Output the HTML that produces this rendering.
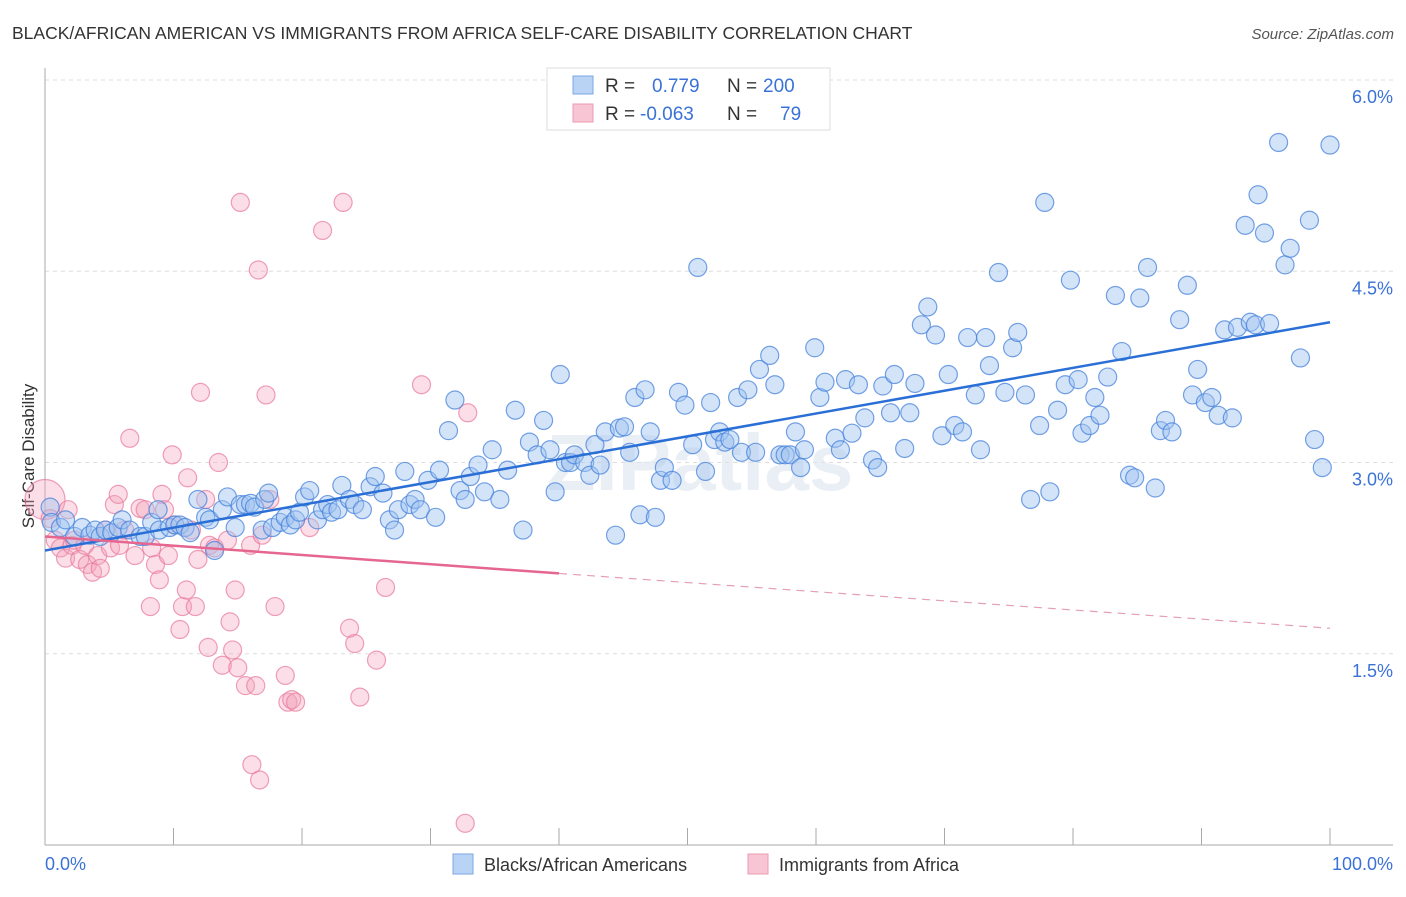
<!DOCTYPE html>
<html><head><meta charset="utf-8"><style>
body{margin:0;background:#fff;font-family:"Liberation Sans",sans-serif;}
svg text{font-family:"Liberation Sans",sans-serif;}
</style></head><body>
<svg id="chart" width="1406" height="892" xmlns="http://www.w3.org/2000/svg">
<text x="12" y="39" font-size="17.5" fill="#333">BLACK/AFRICAN AMERICAN VS IMMIGRANTS FROM AFRICA SELF-CARE DISABILITY CORRELATION CHART</text>
<text x="1394" y="39" font-size="15" fill="#555" font-style="italic" text-anchor="end">Source: ZipAtlas.com</text>
<g id="grid"></g>
<text x="700" y="490" font-size="80" fill="#dde6f0" text-anchor="middle" font-weight="bold" opacity="0.6">ZIPatlas</text>
<text transform="translate(34,456) rotate(-90)" font-size="17" fill="#333" text-anchor="middle">Self-Care Disability</text>
<g id="pts"></g>
<g id="lines"></g>
<g>
<rect x="547" y="68" width="283" height="62" fill="#fff" stroke="#ddd"/>
<rect x="573" y="76" width="20" height="18" fill="#b9d3f5" stroke="#7aa7e6"/>
<rect x="573" y="104" width="20" height="18" fill="#f8c5d4" stroke="#ec9ab3"/>
<text x="605" y="92" font-size="19" fill="#333">R = </text><text x="652" y="92" font-size="19" fill="#3a72d8">0.779</text>
<text x="727" y="92" font-size="19" fill="#333">N = </text><text x="763" y="92" font-size="19" fill="#3a72d8">200</text>
<text x="605" y="120" font-size="19" fill="#333">R = </text><text x="640" y="120" font-size="19" fill="#3a72d8">-0.063</text>
<text x="727" y="120" font-size="19" fill="#333">N = </text><text x="780" y="120" font-size="19" fill="#3a72d8">79</text>
</g>
<g>
<rect x="453" y="854" width="20" height="20" fill="#b9d3f5" stroke="#7aa7e6"/>
<text x="484" y="871" font-size="18" fill="#333">Blacks/African Americans</text>
<rect x="748" y="854" width="20" height="20" fill="#f8c5d4" stroke="#ec9ab3"/>
<text x="779" y="871" font-size="18" fill="#333">Immigrants from Africa</text>
</g>
</svg>
<script>
const xTicks=[0,10,20,30,40,50,60,70,80,90,100];
const yTicks=[1.5,3.0,4.5,6.0];
const blueX=[0.4,0.5,1.2,1.6,2.3,2.9,3.5,3.9,4.3,4.7,5.2,5.7,6.0,6.6,7.4,7.8,8.3,8.8,8.9,9.7,10.1,10.5,10.9,11.3,11.9,12.5,12.8,13.2,13.8,14.2,14.8,15.2,15.6,16.0,16.3,16.9,17.1,17.4,17.7,18.3,18.7,19.1,19.5,19.8,20.2,20.6,21.2,21.6,22.0,22.3,22.8,23.1,23.7,24.1,24.7,25.3,25.7,26.3,26.8,27.2,27.5,28.0,28.4,28.8,29.2,29.8,30.4,30.7,31.4,31.9,32.3,32.7,33.1,33.7,34.2,34.8,35.4,36.0,36.6,37.2,37.7,38.3,38.8,39.3,39.7,40.1,40.5,40.9,41.2,42.0,42.4,42.8,43.2,43.6,44.4,44.7,45.1,45.5,45.9,46.3,46.7,47.1,47.5,47.9,48.2,48.8,49.3,49.8,50.4,50.8,51.4,51.8,52.1,52.5,52.9,53.3,53.9,54.2,54.7,55.3,55.6,56.4,56.8,57.2,57.6,58.0,58.4,58.8,59.1,59.9,60.3,60.7,61.5,61.9,62.3,62.8,63.3,63.8,64.4,64.8,65.2,65.8,66.1,66.9,67.3,67.7,68.2,68.7,69.3,69.8,70.3,70.8,71.4,71.8,72.4,72.8,73.2,73.5,74.2,74.7,75.3,75.7,76.3,76.7,77.4,77.8,78.2,78.8,79.4,79.8,80.4,80.7,81.3,81.7,82.1,82.7,83.3,83.8,84.4,84.8,85.2,85.8,86.4,86.8,87.2,87.7,88.3,88.9,89.3,89.7,90.3,90.8,91.3,91.8,92.4,92.8,93.4,93.8,94.2,94.4,94.9,95.3,96.0,96.5,96.9,97.7,98.4,98.8,99.4,100];
const blueY=[2.65,2.53,2.49,2.55,2.42,2.49,2.43,2.47,2.42,2.47,2.45,2.49,2.55,2.47,2.42,2.42,2.53,2.63,2.47,2.49,2.51,2.51,2.49,2.45,2.71,2.57,2.55,2.31,2.63,2.73,2.49,2.67,2.67,2.68,2.65,2.47,2.71,2.76,2.49,2.53,2.57,2.51,2.55,2.61,2.73,2.78,2.55,2.63,2.67,2.61,2.63,2.82,2.71,2.67,2.63,2.81,2.89,2.76,2.55,2.47,2.63,2.93,2.67,2.71,2.63,2.86,2.57,2.94,3.25,3.49,2.78,2.71,2.89,2.98,2.77,3.10,2.71,2.94,3.41,2.47,3.16,3.06,3.33,3.10,2.77,3.69,3.00,3.00,3.06,3.00,2.90,3.14,2.98,3.24,2.43,3.27,3.28,3.08,3.51,2.59,3.57,3.24,2.57,2.86,2.96,2.86,3.55,3.45,3.14,4.53,2.93,3.47,3.18,3.24,3.16,3.18,3.51,3.08,3.57,3.08,3.73,3.84,3.61,3.06,3.06,3.06,3.24,2.96,3.10,3.90,3.51,3.63,3.19,3.10,3.65,3.23,3.61,3.35,3.02,2.96,3.60,3.39,3.69,3.11,3.39,3.62,4.08,4.22,4.00,3.21,3.69,3.29,3.24,3.98,3.53,3.10,3.98,3.76,4.49,3.55,3.90,4.02,3.53,2.71,3.29,5.04,2.77,3.41,3.61,4.43,3.65,3.23,3.29,3.51,3.37,3.67,4.31,3.87,2.90,2.88,4.29,4.53,2.80,3.25,3.33,3.24,4.12,4.39,3.53,3.73,3.47,3.51,3.37,4.04,3.35,4.06,4.86,4.10,4.08,5.10,4.80,4.09,5.51,4.55,4.68,3.82,4.90,3.18,2.96,5.49];
const pinkX=[0,0.4,0.8,1.2,1.6,1.8,2.1,2.3,2.7,3.1,3.3,3.7,4.1,4.3,4.7,5.1,5.4,5.7,5.8,6.2,6.6,7.0,7.4,7.8,8.2,8.3,8.6,8.9,9.1,9.3,9.6,9.9,10.1,10.5,10.7,11.0,11.1,11.4,11.7,11.9,12.1,12.5,12.7,12.8,13.2,13.5,13.8,14.2,14.4,14.6,14.8,15.0,15.2,15.6,16.0,16.1,16.4,16.6,16.7,16.9,17.2,17.5,17.9,18.7,18.9,19.2,19.5,20.6,21.6,23.2,23.7,24.1,24.5,25.8,26.5,29.3,32.7,32.9];
const pinkY=[2.71,2.56,2.39,2.33,2.25,2.63,2.35,2.39,2.24,2.35,2.20,2.14,2.27,2.17,2.47,2.33,2.67,2.75,2.35,2.47,3.19,2.27,2.64,2.63,1.87,2.33,2.20,2.08,2.75,2.63,2.27,3.06,2.51,1.69,1.87,2.00,2.88,2.47,1.87,2.24,3.55,2.71,1.55,2.35,2.33,3.00,1.41,2.39,1.75,1.53,2.00,1.39,5.04,1.25,2.35,0.63,1.25,4.51,0.51,2.43,3.53,2.71,1.87,1.33,1.12,1.14,1.12,2.49,4.82,5.04,1.70,1.58,1.16,1.45,2.02,3.61,0.17,3.39];
const blueTrendX=[0,100], blueTrendY=[2.31,4.10];
const pinkTrendX=[0,40,100], pinkTrendY=[2.42,2.13,1.70];
const NS="http://www.w3.org/2000/svg";
const sx=v=>45+v*12.85, sy=v=>845-v*127.5;
function mk(t,a,p){const e=document.createElementNS(NS,t);for(const k in a)e.setAttribute(k,a[k]);p.appendChild(e);return e;}
const grid=document.getElementById('grid');
yTicks.forEach(t=>{
 const l=mk('line',{x1:45,x2:1393,y1:sy(t),y2:sy(t),stroke:'#ddd','stroke-dasharray':'4,4'},grid);
 
 
 const tx=mk('text',{x:1393,y:sy(t)+23,'font-size':18,fill:'#3a72d8','text-anchor':'end'},grid);
 tx.textContent=t.toFixed(1)+'%';
 
 
});
mk('line',{x1:45,x2:45,y1:68,y2:845,stroke:'#aaa'},grid);
mk('line',{x1:45,x2:1393,y1:845,y2:845,stroke:'#aaa'},grid);
xTicks.forEach(t=>{
 const l=mk('line',{x1:sx(t),x2:sx(t),y1:828,y2:845,stroke:'#aaa'},grid);
 
 
});
[[0,'0.0%','start',45],[100,'100.0%','end',1393]].forEach(d=>{
 const tx=mk('text',{x:d[3],y:870,'font-size':18,fill:'#3a72d8','text-anchor':d[2]},grid);
 tx.textContent=d[1];
 
 
});
const pts=document.getElementById('pts');
pinkX.forEach((x,i)=>{
 const c=mk('circle',{cx:sx(x),cy:sy(pinkY[i]),r:i==0?20:9,fill:'rgba(244,160,185,0.35)',stroke:'rgba(232,120,155,0.7)','stroke-width':1.2},pts);
 
 
});
blueX.forEach((x,i)=>{
 const c=mk('circle',{cx:sx(x),cy:sy(blueY[i]),r:9,fill:'rgba(160,195,240,0.45)',stroke:'rgba(70,130,220,0.75)','stroke-width':1.2},pts);
 
 
});
const lines=document.getElementById('lines');
const bl=mk('line',{x1:sx(blueTrendX[0]),y1:sy(blueTrendY[0]),x2:sx(blueTrendX[1]),y2:sy(blueTrendY[1]),stroke:'#2a6fd6','stroke-width':2.5},lines);


const pl=mk('line',{x1:sx(pinkTrendX[0]),y1:sy(pinkTrendY[0]),x2:sx(pinkTrendX[1]),y2:sy(pinkTrendY[1]),stroke:'#e5668f','stroke-width':2.5},lines);


const pd=mk('line',{x1:sx(pinkTrendX[1]),y1:sy(pinkTrendY[1]),x2:sx(pinkTrendX[2]),y2:sy(pinkTrendY[2]),stroke:'#e5a0b5','stroke-width':1.2,'stroke-dasharray':'8,6'},lines);


</script>
</body></html>
